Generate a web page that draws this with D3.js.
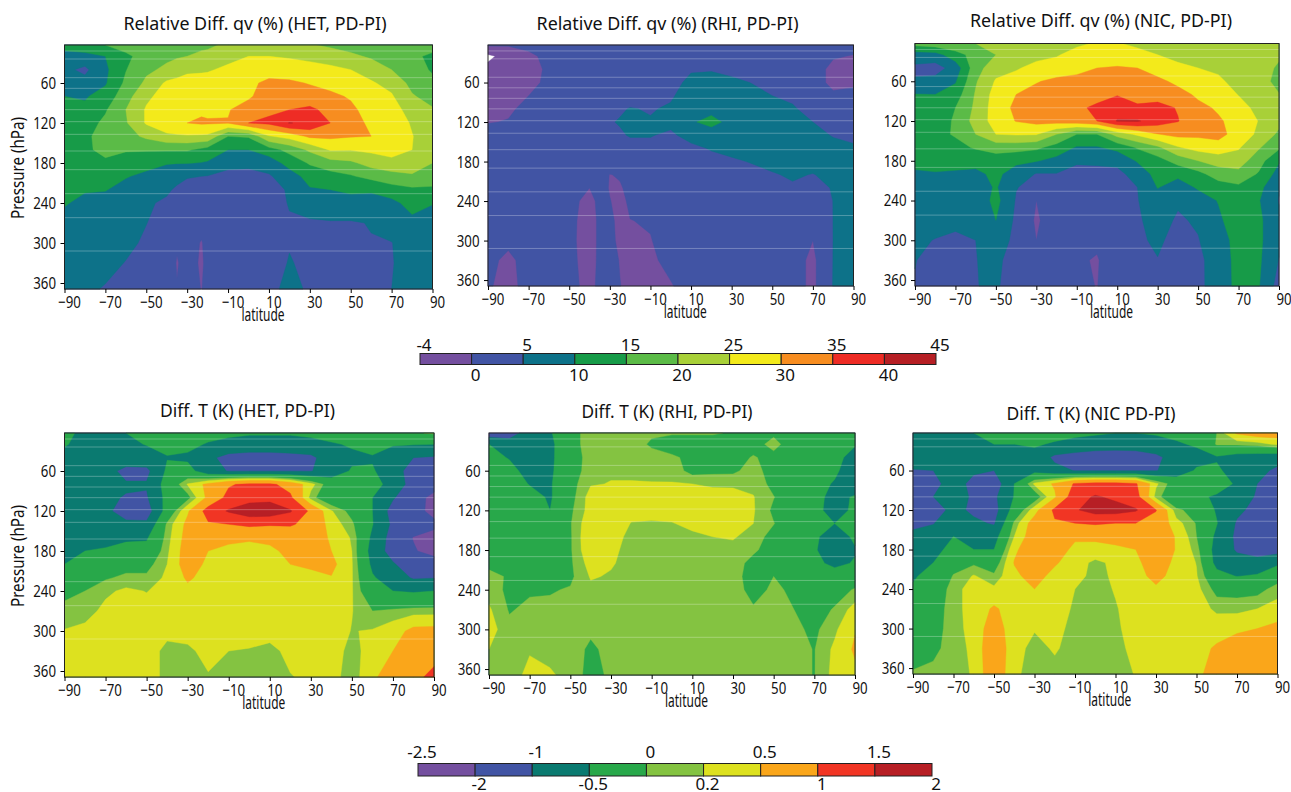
<!DOCTYPE html>
<html>
<head>
<meta charset="utf-8">
<script src="https://cdn.jsdelivr.net/npm/d3@7"></script>
<style>
  body { margin: 0; background: #fff; }
  text { fill: #111; }
  .tick text, .axis-label { font-family: "Noto Sans", sans-serif; font-size: 17px; }
  .title { font-family: "Noto Sans", sans-serif; font-size: 18.5px; }
  .legend-label { font-family: "Noto Sans", sans-serif; font-size: 17px; }
</style>
</head>
<body>
<div id="chart"></div>
<script>
// grid the values were read on
var lats = [-90, -80, -70, -60, -50, -40, -30, -20, -10, 0, 10, 20, 30, 40, 50, 60, 70, 80, 90];
// two panels have narrow spikes, so they carry a couple of extra columns
var qvHetLats = [-90, -80, -70, -60, -50, -40, -35, -30, -23, -20, -10, 0, 10, 20, 30, 40, 50, 60, 70, 80, 90];
var qvRhiLats = [-90, -80, -70, -60, -50, -40, -35, -30, -25, -20, -10, 0, 10, 20, 30, 40, 50, 60, 70, 80, 90];
var pressures = [3, 20, 40, 60, 80, 100, 120, 140, 160, 180, 200, 220, 240, 270, 300, 330, 369];

var latTicks = [-90, -70, -50, -30, -10, 10, 30, 50, 70, 90];
var pressureTicks = [60, 120, 180, 240, 300, 360];
// faint model level lines across each panel
var levelLines = [12, 24, 52, 68, 84, 100, 118, 137, 162, 190, 226, 262, 312];

// colour bars
var qvEdges = [-4, 0, 5, 10, 15, 20, 25, 30, 35, 40, 45];
var qvColors = ["#744f9f", "#4154a4", "#0d7289", "#179b48", "#5bbb47", "#a8d038", "#f3ea1b", "#f78d20", "#ee2c25", "#b61f24"];
var tEdges = [-2.5, -2, -1, -0.5, 0, 0.2, 0.5, 1, 1.5, 2];
var tColors = ["#744f9f", "#4154a4", "#0a7a70", "#28a84a", "#84c341", "#dde11f", "#faa61a", "#f13524", "#b71f25"];

// one row per latitude, one value per pressure level
var qvHet = [
  [12,8,6,7.5,10,11,12,13,13,12.5,12,11.5,10.5,8,7,6.5,6],
  [14,8,4,6.5,9.5,11,13,14,14,13,12,10.5,8.5,7,6.5,6,5.5],
  [15,10,9,9.5,12,14.5,16,17,16.5,14,11.5,10.2,8.5,7,6.3,5.8,4.8],
  [17,14,14.8,16,18,20,19.5,18,15.5,12.5,10.3,8.5,7.5,6.5,5.6,4.9,4.3],
  [17,17,19,21,24,25.5,25.5,21,15.5,11.5,9,6.8,5.4,5.05,4.6,4.3,4],
  [18,19,21,25.8,27,28,28,24,15.5,10.3,7.5,5.5,4.5,4,3.5,3,2.7],
  [18.5,19.5,22.5,26.5,27.8,28.8,29,24.3,15.5,10.2,6,4.5,3.5,2.6,0.5,-0.3,0.2],
  [19,20,24,27,28.5,29.5,30,24.5,15.5,10.2,5.2,4,3,2.2,2,1.5,1.5],
  [19,21,24.3,27,28.8,29.3,30.6,24.2,14,9.8,5,3.7,2.7,1.5,-0.3,-0.5,-0.1],
  [19,21.5,24.5,27,29,29,30.5,24,13,9.5,4.8,3.5,2.5,2,1.5,1,1],
  [21,23.5,26,28,29.7,29.7,30.2,15,10,6.2,3.8,3,2.5,2,2,1.5,1.5],
  [21.5,25,27,29,29.3,32,35,15.5,10,6,3.7,3,2.5,2,2,2,2],
  [21,25,28,31,32.5,34,36,24.5,13,7,4.5,4,3.5,3,3,3.5,4],
  [21,24.5,27.5,30.8,33,35,40.2,27,16.5,12,7.5,5.3,5.2,4.7,4.8,5.2,6],
  [20.5,24,26.5,29.7,32,36,39,31,21,15.5,12,9.5,6.5,4.6,4.5,4.3,4.5],
  [19,23,26,28.5,31,33.5,35,31,25.5,18,13,10,8,4.6,4,3.7,3.8],
  [18,21,25,27,29.5,31,32,30.3,25.3,19,14.5,11,8,4.6,4.2,3.5,3.5],
  [17,19.3,23,25.5,27,28,29,30,26,22,16.5,10.5,8.5,5.2,4.8,4,3.7],
  [17,18,20,23.5,25.5,27,28,28.5,27,23.5,18,13,8.5,6.5,4.9,4.8,5],
  [16.5,16,17,18.5,20.5,23,24.5,25.2,25,22,19.5,14,12,8.5,7,6.5,6.5],
  [17,14,14.5,16,18,20.5,21.5,22,22,20,16.5,14.5,10.2,8,7,6.5,6]
];

var qvRhi = [
  [0.5,-4.8,-3,-2.5,-2,-1.5,-0.2,1.5,2,2.2,2,2,2,2,1.5,0.8,0.3],
  [0.3,-2.5,-2.5,-2.2,-1.5,-0.6,0.2,1.5,2,2.2,2.4,2.4,2.4,2,0.7,-0.7,-0.9],
  [1,-0.8,-1.5,-1.2,0,1,1.5,2,2.4,2.5,2.5,2.5,2.5,2.3,2,1.2,1],
  [1.5,1,0.7,0.9,1.2,1.6,2,2.3,2.5,2.6,2.6,2.5,2.3,2.2,2,1.8,1.7],
  [2,1.8,1.6,1.7,2,2.2,2.5,2.5,2.5,2.4,2.2,1.8,1,0.8,0.7,0.8,0.9],
  [2.2,2.2,2.2,2.3,2.5,2.8,3,3,2.8,2.5,2,0,-1,-1.3,-1.3,-1.2,-0.9],
  [2.3,2.3,2.3,2.4,2.7,3.2,3.5,3.2,2.8,2.5,1.5,1.2,0.8,0.6,0.6,0.6,0.7],
  [2.5,2.4,2.5,2.6,2.9,4,4.7,4,3,2.5,-0.1,-0.2,0.1,0.8,1.2,1.4,1.5],
  [2.6,2.5,2.6,2.7,3,4.5,5.3,4.5,3,2.5,0.3,-0.3,-0.8,-1,-1,-0.2,0.1],
  [2.7,2.6,2.7,2.8,3.2,5.2,6,5.3,3.5,2.5,1.5,0.8,0.5,-0.05,-0.6,-1,-1],
  [2.8,2.7,2.8,3,3.7,4.7,5.3,5.2,4,3,2,1.2,0.6,0.2,-0.1,-0.5,-0.3],
  [2.9,2.8,2.9,3.2,4.5,5.5,6,4.3,3.2,2.8,2.2,1.8,1.5,1.2,1,0.8,-0.2],
  [3,3,4.5,6.3,7,8,9.4,6.5,4,3,2.5,2,1.8,1.5,1.3,1.2,1.2],
  [3,3.2,4.7,6.5,7.5,8.5,11.5,7.5,5.3,3.8,3,2.5,2,1.8,1.6,1.5,1.5],
  [3,3,4,5.8,7,8,8.5,7.5,6,4.5,3.2,2.6,2.2,1.8,1.6,1.5,1.5],
  [3,3,3.8,4.9,6,7.5,8,7.5,6.5,5.2,4,3.2,2.7,2.2,1.9,1.8,1.8],
  [3,3,3.5,4.2,5,6.5,7.5,7.5,6.8,5.7,4.8,3.6,3,2.5,2.2,2,2],
  [3,3,3.2,3.7,4.5,5.3,6.5,7,6.8,6,5.3,4.7,3.8,2.8,2.2,1.8,1.8],
  [2.8,2.8,2.5,2.5,3.5,4,5,6,6.5,6,4.9,3.5,2.5,1,0,-1,-1],
  [2,0.5,-1.5,-1.5,1,2.5,3.5,4.8,6,6,5.7,5.3,5.05,5.05,5.05,5.1,5.2],
  [2,-0.3,-1,-0.6,1,2.5,3.5,4.5,5.3,6.5,7,7,7,7,7,7,7]
];

var qvNic = [
  [17,7.5,4,5.5,10.2,12,13,13.5,13,11,9.5,8,7,6,5.5,5.1,4.8],
  [18,8,3,6.5,10,12,13,13.5,13,11.5,9.7,8,7,6,4.9,4,3.5],
  [19,13,7,9.5,12.5,15,15.5,15.5,13.5,11,9.6,8,7,5.5,4.6,4,4],
  [20,17,18,19.5,20.5,21,22,20,15.5,11.5,9,7.5,6.5,5.5,5,4.9,4.9],
  [20.5,20,23,25.5,27,27.5,27,25,17,12.5,11,10.5,11.5,10,8,6,5.5],
  [21,22,24.5,27,30,31,30.2,25.5,17,11,8,5.2,4.6,4,3.5,3,3],
  [22,23.5,26.5,29.7,31.5,33,31.5,25.3,16,10.3,4.7,3.5,0,-0.6,0,2,3],
  [23,24.5,27.5,31,32.5,33.5,32,20,13,8.5,4.8,3.8,3,2.5,2.2,2,2],
  [24,27,28.5,31.5,33,34.5,33,15,9.5,5.5,3.8,3,2.5,2,1,0.5,0.8],
  [25.5,28,30,32,34,35.5,35,15,9.5,5.7,3.8,3,2.5,2,0.7,-0.3,-0.1],
  [25.3,28,30.3,32.5,34.7,38,40.3,22,11.5,6,4,3.5,3,2.5,2.5,2.5,2.5],
  [24,26.5,30,32,33.8,35.5,40.5,26,15.5,10.5,6.5,5,4.8,4.5,4.5,4.8,5],
  [23,25,28,31,33,36.5,37.5,29.8,19,13,12,10.2,8,6.5,5.5,4.9,4.5],
  [22,23,26.5,29,31.5,34.7,35.2,31.5,24.5,17,11,8,5.5,4.5,4,3.5,3.5],
  [21,22.5,25,27.5,29.3,31,32,31,27,20,13.5,10.5,8,5.5,4.8,4.3,4.5],
  [20.5,21.5,24,26,28,29.5,30.5,31.5,28,22,17.5,12.5,10.2,9.2,7.5,6.5,6],
  [20.5,21,22,23,24.8,27,28.5,28,25.5,22.5,18.5,14,13,12.5,12,12,12],
  [20.5,21,21.5,22,22.7,23.5,24.8,24,20.5,17,14.5,11.5,10.3,11,11,10.8,10.3],
  [20.5,20.5,19.5,18.5,20.2,21,21.5,19,15.8,10.5,8,5.5,4.7,6,6,4.8,3]
];

var tHet = [
  [-0.4,-0.45,-0.7,-0.75,-0.8,-0.8,-0.8,-0.8,-0.75,-0.6,-0.5,-0.2,-0.1,0.1,0.21,0.3,0.35],
  [-0.6,-0.7,-0.8,-0.85,-0.85,-0.9,-0.9,-0.85,-0.75,-0.5,-0.35,-0.15,0,0.1,0.27,0.35,0.35],
  [-0.6,-0.7,-0.8,-0.85,-0.9,-0.95,-0.9,-0.85,-0.65,-0.45,-0.25,-0.03,0.15,0.27,0.33,0.35,0.35],
  [-0.5,-0.6,-0.75,-1.12,-0.96,-1.02,-1.2,-0.9,-0.6,-0.3,-0.1,0.05,0.25,0.32,0.35,0.35,0.35],
  [-0.35,-0.48,-0.7,-1.12,-0.96,-1.05,-1.25,-0.9,-0.55,-0.35,-0.1,0.05,0.19,0.3,0.35,0.37,0.37],
  [-0.3,-0.4,-0.52,-0.42,-0.3,-0.35,-0.3,0.05,0.1,0.15,0.2,0.25,0.3,0.33,0.3,0.1,0.1],
  [-0.3,-0.35,-0.6,-0.3,0.22,-0.1,0.45,0.6,0.65,0.7,0.7,0.55,0.42,0.38,0.3,0.15,0.2],
  [-0.3,-0.55,-0.9,-0.85,0.6,0.6,1.2,0.95,0.75,0.5,0.42,0.38,0.35,0.35,0.33,0.28,0.18],
  [-0.4,-0.65,-1.15,-1.02,0.95,1.15,1.55,1,0.55,0.45,0.4,0.38,0.36,0.35,0.33,0.2,0.12],
  [-0.45,-0.7,-1.2,-1.02,1.1,1.3,1.8,1.1,0.52,0.45,0.4,0.38,0.36,0.35,0.32,0.18,0.1],
  [-0.45,-0.7,-1.2,-1.02,1.1,1.35,1.8,1.05,0.55,0.46,0.41,0.38,0.36,0.35,0.27,0.15,0.1],
  [-0.45,-0.7,-1.15,-1.02,0.8,1.1,1.55,1.05,0.7,0.55,0.5,0.4,0.36,0.34,0.3,0.25,0.19],
  [-0.4,-0.65,-1.1,-1.02,0.3,0.1,0.9,0.85,0.72,0.65,0.55,0.42,0.37,0.35,0.33,0.3,0.24],
  [-0.3,-0.55,-0.75,-0.8,-0.2,-0.3,0.22,0.35,0.45,0.5,0.6,0.48,0.36,0.33,0.32,0.32,0.32],
  [-0.3,-0.45,-0.6,-0.45,-0.05,-0.4,-0.1,0.05,0.17,0.2,0.22,0.22,0.22,0.21,0.19,0.12,0.05],
  [-0.2,-0.3,-0.55,-0.45,-0.3,-0.5,-0.5,-0.48,-0.6,-0.7,-0.6,-0.45,-0.3,0,0.22,0.3,0.45],
  [-0.1,-0.45,-0.85,-0.8,-0.7,-0.95,-1.2,-1.1,-1.2,-1.2,-0.95,-0.75,-0.5,0.05,0.35,0.5,0.65],
  [-0.05,-0.48,-1,-1.2,-1.2,-1.4,-1.5,-1.4,-2.05,-1.9,-1.3,-1.05,-0.55,0.1,0.6,0.8,0.9],
  [0.05,-0.5,-1.05,-1.3,-1.4,-2.4,-2.4,-1.7,-2.45,-2.4,-1.4,-1.02,-0.5,0.1,0.62,0.85,1.1]
];

var tRhi = [
  [-1.3,-0.5,-0.4,-0.35,-0.3,-0.28,-0.25,-0.2,-0.18,-0.15,-0.05,0.05,0.1,0.23,0.3,0.2,0.12],
  [-1.3,-0.7,-0.52,-0.4,-0.3,-0.25,-0.2,-0.15,-0.15,-0.15,-0.1,-0.02,-0.05,-0.02,0.06,0.1,0.1],
  [-0.7,-0.75,-0.7,-0.62,-0.52,-0.35,-0.25,-0.2,-0.18,-0.15,-0.12,-0.1,-0.03,0.05,0.1,0.18,0.26],
  [-0.55,-0.62,-0.6,-0.58,-0.55,-0.55,-0.5,-0.3,-0.2,-0.15,-0.12,-0.08,-0.02,0.05,0.1,0.15,0.22],
  [-0.1,-0.1,-0.15,-0.15,-0.1,-0.1,-0.05,-0.02,-0.03,-0.03,-0.04,-0.05,0.02,0.08,0.1,0.12,0.15],
  [0.1,0.1,0.1,0.12,0.18,0.3,0.3,0.38,0.42,0.4,0.3,0.22,0.15,0.1,0.05,-0.05,-0.1],
  [0.15,0.15,0.15,0.17,0.21,0.35,0.35,0.35,0.28,0.25,0.22,0.18,0.14,0.12,0.1,0.08,0.05],
  [0.15,0.15,0.15,0.17,0.21,0.35,0.28,0.19,0.15,0.13,0.13,0.12,0.12,0.11,0.1,0.1,0.1],
  [0.05,-0.05,0.12,0.15,0.21,0.38,0.3,0.17,0.14,0.13,0.12,0.12,0.12,0.11,0.1,0.1,0.1],
  [0.02,-0.1,0.03,0.14,0.21,0.38,0.28,0.19,0.14,0.13,0.12,0.12,0.12,0.11,0.1,0.1,0.1],
  [0.02,-0.1,-0.05,-0.1,0.2,0.38,0.35,0.25,0.16,0.14,0.13,0.12,0.12,0.11,0.1,0.1,0.1],
  [0.02,-0.1,-0.1,-0.05,0.13,0.38,0.36,0.3,0.2,0.15,0.13,0.12,0.12,0.11,0.1,0.1,0.1],
  [-0.02,-0.1,-0.1,-0.04,0.12,0.38,0.36,0.32,0.22,0.14,0.13,0.12,0.12,0.11,0.1,0.1,0.1],
  [-0.03,-0.1,0.02,0.08,0.15,0.21,0.22,0.2,0.12,0.05,-0.1,-0.15,-0.1,0.03,0.08,0.1,0.1],
  [-0.05,0.08,-0.08,-0.1,-0.08,0.01,-0.05,0.01,-0.1,-0.15,-0.12,0,0.05,0.1,0.1,0.1,0.1],
  [-0.1,-0.15,-0.2,-0.2,-0.2,-0.2,-0.2,-0.2,-0.25,-0.25,-0.2,-0.1,-0.05,0,0.05,0.08,0.08],
  [-0.15,-0.2,-0.25,-0.28,-0.3,-0.35,-0.35,-0.35,-0.4,-0.45,-0.35,-0.25,-0.15,-0.1,-0.05,-0.01,-0.01],
  [-0.15,-0.25,-0.3,-0.4,-0.55,-0.65,-0.7,-0.5,-0.8,-0.8,-0.65,-0.2,-0.1,0.02,0.15,0.25,0.28],
  [-0.3,-0.45,-0.75,-0.85,-0.8,-0.45,-0.4,-0.35,-0.4,-0.55,-0.45,-0.15,0.02,0.3,0.48,0.55,0.42]
];

var tNic = [
  [-0.55,-0.7,-0.8,-1.02,-1.2,-1.1,-1.2,-1.1,-0.9,-0.75,-0.65,-0.55,-0.45,-0.3,-0.2,-0.1,0.02],
  [-0.55,-0.7,-0.8,-1,-1.1,-1,-1.25,-1.02,-0.8,-0.7,-0.5,-0.35,-0.25,-0.15,-0.1,-0.03,0.03],
  [-0.55,-0.7,-0.8,-0.85,-0.85,-0.85,-0.85,-0.7,-0.5,-0.3,-0.15,0.02,0.12,0.12,0.1,0.05,0.08],
  [-0.5,-0.65,-0.8,-0.95,-1.1,-1.05,-1.1,-0.9,-0.6,-0.5,-0.05,0.22,0.3,0.3,0.3,0.28,0.23],
  [-0.45,-0.5,-0.75,-1,-1.3,-1.1,-1.2,-1.05,-0.7,-0.5,-0.2,0.05,0.25,0.55,0.7,0.8,0.8],
  [-0.4,-0.5,-0.7,-0.75,-0.5,-0.48,-0.3,0.05,0.2,0.42,0.52,0.42,0.38,0.34,0.3,0.3,0.25],
  [-0.35,-0.45,-0.65,-0.65,0.25,-0.2,0.35,0.7,0.75,0.8,0.75,0.65,0.5,0.35,0.22,0.12,0.1],
  [-0.35,-0.55,-1.1,-0.85,0.55,0.45,1.1,0.95,0.8,0.65,0.55,0.38,0.34,0.3,0.25,0.23,0.12],
  [-0.4,-0.65,-1.2,-1.02,1.05,1.3,1.45,1,0.55,0.43,0.3,0.28,0.2,0.17,0.15,0.1,0.08],
  [-0.45,-0.7,-1.3,-1.02,1.15,1.55,1.7,1.05,0.6,0.35,0.15,0.13,0.1,0.1,0.08,0.05,0.05],
  [-0.5,-0.7,-1.35,-1.02,1.15,1.4,1.7,1,0.65,0.42,0.25,0.24,0.22,0.18,0.16,0.12,0.05],
  [-0.5,-0.7,-1.3,-1.02,1.05,1.2,1.55,1,0.7,0.5,0.42,0.38,0.35,0.32,0.3,0.28,0.22],
  [-0.45,-0.7,-1.1,-1.02,0.25,0.1,1.02,0.85,0.8,0.75,0.7,0.6,0.45,0.38,0.35,0.33,0.33],
  [-0.4,-0.55,-0.8,-0.8,-0.2,-0.3,0.05,0.3,0.47,0.48,0.42,0.38,0.36,0.35,0.35,0.35,0.35],
  [-0.2,-0.45,-0.65,-0.45,-0.15,-0.35,-0.1,-0.02,0,0.1,0.19,0.22,0.28,0.32,0.35,0.37,0.4],
  [0,0.03,-0.55,-0.42,-0.15,-0.6,-0.55,-0.48,-0.6,-0.7,-0.65,-0.35,-0.1,0.15,0.35,0.55,0.7],
  [0.55,0.05,-0.7,-0.72,-0.6,-0.75,-0.9,-1.05,-1.1,-1.05,-0.85,-0.52,-0.1,0.12,0.45,0.65,0.75],
  [0.7,0.1,-0.75,-0.85,-1,-1.05,-1.15,-1.2,-1.2,-1.2,-0.85,-0.45,-0.1,0.2,0.5,0.7,0.8],
  [0.7,0.25,-0.8,-1.1,-1.2,-1.2,-1.2,-1.3,-1.3,-1.2,-0.6,-0.15,0.1,0.3,0.6,0.75,0.85]
];

var svgWidth = 1291;
var svgHeight = 792;

var svg = d3.select("#chart")
  .append("svg")
  .attr("width", svgWidth)
  .attr("height", svgHeight)
  .style("display", "block");

// panel placement, titles and which grid goes where
var panels = [
  { title: "Relative Diff. qv (%) (HET, PD-PI)", grid: qvHet, lats: qvHetLats, edges: qvEdges, colors: qvColors,
    left: 64.5, right: 432.5, top: 45, bottom: 289, titleX: 255, titleY: 30, titleLen: 263, yTitle: true },
  { title: "Relative Diff. qv (%) (RHI, PD-PI)", grid: qvRhi, lats: qvRhiLats, edges: qvEdges, colors: qvColors,
    left: 488, right: 853.5, top: 45, bottom: 286, titleX: 667.5, titleY: 30, titleLen: 262 },
  { title: "Relative Diff. qv (%) (NIC, PD-PI)", grid: qvNic, lats: lats, edges: qvEdges, colors: qvColors,
    left: 915, right: 1279, top: 43.5, bottom: 286, titleX: 1101, titleY: 27, titleLen: 262 },
  { title: "Diff. T (K) (HET, PD-PI)", grid: tHet, lats: lats, edges: tEdges, colors: tColors,
    left: 64.5, right: 434, top: 433, bottom: 677, titleX: 247.5, titleY: 417, titleLen: 175, yTitle: true },
  { title: "Diff. T (K) (RHI, PD-PI)", grid: tRhi, lats: lats, edges: tEdges, colors: tColors,
    left: 489, right: 855, top: 433, bottom: 675, titleX: 667, titleY: 418, titleLen: 171 },
  { title: "Diff. T (K) (NIC PD-PI)", grid: tNic, lats: lats, edges: tEdges, colors: tColors,
    left: 913, right: 1277.5, top: 433, bottom: 674, titleX: 1091, titleY: 420, titleLen: 169 }
];

// the reference uses a condensed face, none is installed so squeeze the text
function squeeze(selection, factor) {
  selection.each(function() {
    var node = d3.select(this);
    node.attr("textLength", this.getComputedTextLength() * factor)
      .attr("lengthAdjust", "spacingAndGlyphs");
  });
}

function drawPanel(panel) {
  var xScale = d3.scaleLinear().domain([-90, 90]).range([panel.left, panel.right]);
  var yScale = d3.scaleLinear().domain([3, 369]).range([panel.top, panel.bottom]);

  // d3.contours puts grid values on cell centres, so index i sits at i + 0.5
  var latOfCell = d3.scaleLinear()
    .domain(panel.lats.map((d, i) => i + 0.5))
    .range(panel.lats)
    .clamp(true);
  var pressureOfCell = d3.scaleLinear()
    .domain(pressures.map((d, i) => i + 0.5))
    .range(pressures)
    .clamp(true);

  var path = d3.geoPath(d3.geoTransform({
    point: function(cx, cy) {
      this.stream.point(xScale(latOfCell(cx)), yScale(pressureOfCell(cy)));
    }
  }));

  // flatten the grid row by row for d3.contours
  var flat = [];
  pressures.forEach((p, j) => panel.lats.forEach((lat, i) => flat.push(panel.grid[i][j])));

  var bands = panel.colors.map((c, i) => ({ low: panel.edges[i], color: c }));
  var contours = d3.contours()
    .size([panel.lats.length, pressures.length])
    .thresholds(bands.map(d => d.low))(flat);

  var group = svg.append("g");

  group.selectAll("path.band")
    .data(contours)
    .enter()
    .append("path")
    .attr("class", "band")
    .attr("d", path)
    .attr("fill", (d, i) => bands[i].color)
    .attr("stroke", (d, i) => bands[i].color)
    .attr("stroke-width", 0.4);

  group.selectAll("line.level")
    .data(levelLines)
    .enter()
    .append("line")
    .attr("class", "level")
    .attr("x1", panel.left)
    .attr("x2", panel.right)
    .attr("y1", d => yScale(d))
    .attr("y2", d => yScale(d))
    .attr("stroke", "#fff")
    .attr("stroke-opacity", 0.28)
    .attr("stroke-width", 1);

  // frame
  group.append("rect")
    .attr("x", panel.left)
    .attr("y", panel.top)
    .attr("width", panel.right - panel.left)
    .attr("height", panel.bottom - panel.top)
    .attr("fill", "none")
    .attr("stroke", "#222")
    .attr("stroke-width", 1);

  var bottomAxis = d3.axisBottom(xScale).tickValues(latTicks).tickSize(4).tickPadding(3);
  var xAxis = group.append("g")
    .attr("transform", `translate(0, ${panel.bottom})`)
    .call(bottomAxis);
  xAxis.select(".domain").remove();
  xAxis.selectAll(".tick text").attr("dx", 4.5).call(squeeze, 0.78);

  var leftAxis = d3.axisLeft(yScale).tickValues(pressureTicks).tickSize(4).tickPadding(4.5);
  var yAxis = group.append("g")
    .attr("transform", `translate(${panel.left}, 0)`)
    .call(leftAxis);
  yAxis.select(".domain").remove();
  yAxis.selectAll(".tick text").call(squeeze, 0.78);

  group.append("text")
    .attr("class", "axis-label")
    .attr("x", (panel.left + panel.right) / 2 + 14.5)
    .attr("y", panel.bottom + 32)
    .attr("text-anchor", "middle")
    .attr("textLength", 43)
    .attr("lengthAdjust", "spacingAndGlyphs")
    .style("font-size", "18px")
    .text("latitude");

  group.append("text")
    .attr("class", "title")
    .attr("x", panel.titleX)
    .attr("y", panel.titleY)
    .attr("text-anchor", "middle")
    .attr("textLength", panel.titleLen)
    .attr("lengthAdjust", "spacingAndGlyphs")
    .text(panel.title);

  if (panel.yTitle) {
    group.append("text")
      .attr("class", "axis-label")
      .attr("transform", `translate(24, ${(panel.top + panel.bottom) / 2 + 1}) rotate(-90)`)
      .attr("text-anchor", "middle")
      .attr("textLength", 102)
      .attr("lengthAdjust", "spacingAndGlyphs")
      .style("font-size", "18px")
      .text("Pressure (hPa)");
  }
}

panels.forEach(drawPanel);

// colour bar with labels taking turns above and below
function drawLegend(edges, colors, left, right, top, bottom, topBase, bottomBase) {
  var x = d3.scaleBand()
    .domain(d3.range(colors.length))
    .range([left, right]);

  var group = svg.append("g");

  group.selectAll("rect")
    .data(colors)
    .enter()
    .append("rect")
    .attr("x", (d, i) => x(i))
    .attr("y", top)
    .attr("width", x.bandwidth())
    .attr("height", bottom - top)
    .attr("fill", d => d)
    .attr("stroke", "#222")
    .attr("stroke-width", 1);

  group.selectAll("text")
    .data(edges)
    .enter()
    .append("text")
    .attr("class", "legend-label")
    .attr("x", (d, i) => left + i * x.bandwidth() + 4)
    .attr("y", (d, i) => i % 2 === 0 ? topBase : bottomBase)
    .attr("text-anchor", "middle")
    .text(d => d);
}

drawLegend(qvEdges, qvColors, 420, 936, 353.5, 364.5, 351, 381);
drawLegend(tEdges, tColors, 418, 932, 763.5, 776, 758, 790);
</script>
</body>
</html>
